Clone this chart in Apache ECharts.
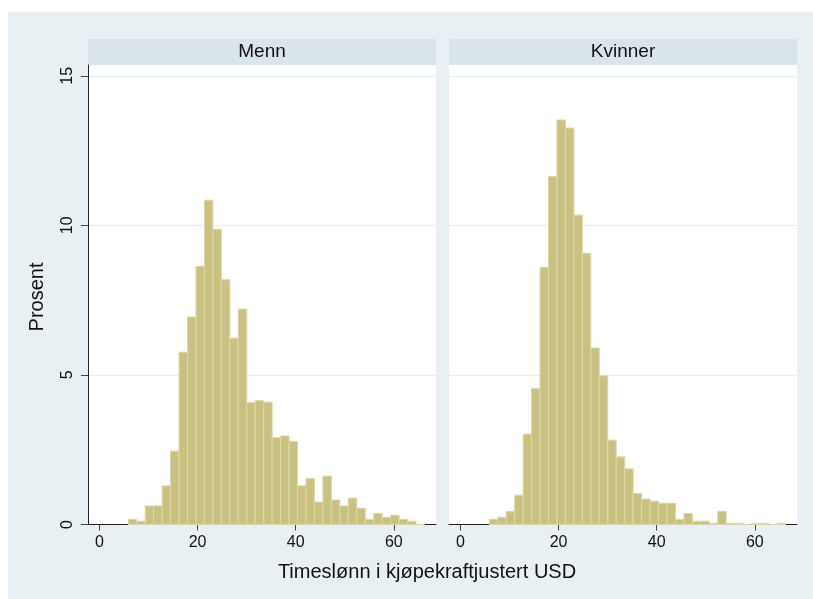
<!DOCTYPE html>
<html>
<head>
<meta charset="utf-8">
<title>Timeslønn i kjøpekraftjustert USD</title>
<script src="https://cdn.jsdelivr.net/npm/echarts@6/dist/echarts.min.js"></script>
<style>
  html, body { margin: 0; padding: 0; background: #fff; }
  #chart { width: 813px; height: 599px; }
</style>
</head>
<body>
<div id="chart"></div>
<script>
// histogram bins (USD), shared by both panels
var binEdges = [5.88, 7.6, 9.33, 11.05, 12.78, 14.5, 16.23, 17.95, 19.68, 21.4, 23.13, 24.85,
  26.58, 28.3, 30.03, 31.75, 33.48, 35.2, 36.93, 38.65, 40.38, 42.1, 43.83, 45.55, 47.28,
  49.0, 50.73, 52.45, 54.18, 55.9, 57.63, 59.35, 61.08, 62.8, 64.53, 66.25];

// prosent per bin
var menn = [0.17, 0.11, 0.62, 0.62, 1.29, 2.45, 5.76, 6.94, 8.63, 10.84, 9.87, 8.18, 6.23, 7.20,
  4.07, 4.14, 4.09, 2.90, 2.96, 2.78, 1.29, 1.54, 0.75, 1.62, 0.82, 0.62, 0.88, 0.54, 0.17,
  0.37, 0.24, 0.31, 0.17, 0.11, 0];
var kvinner = [0.17, 0.24, 0.43, 0.98, 3.02, 4.55, 8.60, 11.63, 13.52, 13.25, 10.34, 9.07, 5.90,
  4.97, 2.82, 2.26, 1.86, 1.04, 0.85, 0.78, 0.71, 0.71, 0.17, 0.37, 0.11, 0.11, 0.04, 0.44,
  0.04, 0.04, 0, 0.04, 0.04, 0, 0.04];

var panels = ['Menn', 'Kvinner'];
var xTicks = [0, 20, 40, 60];
var yTicks = [0, 5, 10, 15];

var font = "'Liberation Sans', Arial, Helvetica, sans-serif";
var barFill = '#c9c182';
var barEdge = '#dcd7a6';

function toBins(vals) {
  var out = [];
  for (var i = 0; i < vals.length; i++) {
    out.push([binEdges[i], binEdges[i + 1], vals[i]]);
  }
  return out;
}

function renderBin(params, api) {
  var top = api.coord([api.value(0), api.value(2)]);
  var base = api.coord([api.value(1), 0]);
  return {
    type: 'rect',
    shape: { x: top[0], y: top[1], width: base[0] - top[0], height: base[1] - top[1] },
    style: { fill: barFill, stroke: barEdge, lineWidth: 1 }
  };
}

function makeX(idx) {
  return {
    type: 'value', gridIndex: idx, min: -2.33, max: 68.6,
    axisLine: { show: true, onZero: false, lineStyle: { color: '#222', width: 1 } },
    axisTick: { show: true, length: 6, customValues: xTicks, lineStyle: { color: '#444' } },
    axisLabel: { customValues: xTicks, margin: 10, fontSize: 16, color: '#111', fontFamily: font },
    splitLine: { show: false }
  };
}

function makeY(idx, showAxis) {
  return {
    type: 'value', gridIndex: idx, min: 0, max: 15.36, interval: 5,
    axisLine: { show: showAxis, onZero: false, lineStyle: { color: '#222', width: 1 } },
    axisTick: { show: showAxis, length: 7, customValues: yTicks, lineStyle: { color: '#444' } },
    axisLabel: { show: showAxis, customValues: yTicks, rotate: 90, margin: 12, fontSize: 16, color: '#111', fontFamily: font },
    splitLine: { show: true, lineStyle: { color: '#e7eef1', width: 1 } }
  };
}

var chart = echarts.init(document.getElementById('chart'));

var option = {
  backgroundColor: '#fff',
  animation: false,
  grid: [
    { left: 88, top: 65, width: 348, height: 459.5, show: true, backgroundColor: '#fff', borderWidth: 0 },
    { left: 449, top: 65, width: 348, height: 459.5, show: true, backgroundColor: '#fff', borderWidth: 0 }
  ],
  xAxis: [makeX(0), makeX(1)],
  yAxis: [makeY(0, true), makeY(1, false)],
  graphic: [
    { type: 'rect', z: -10, shape: { x: 8, y: 12, width: 805, height: 587 }, style: { fill: '#e9f0f3' } },
    { type: 'rect', shape: { x: 88, y: 39, width: 348, height: 26 }, style: { fill: '#d9e5eb' } },
    { type: 'rect', shape: { x: 449, y: 39, width: 348, height: 26 }, style: { fill: '#d9e5eb' } },
    { type: 'text', x: 262, y: 52, style: { text: panels[0], align: 'center', verticalAlign: 'middle', fontSize: 19, fontFamily: font, fill: '#111' } },
    { type: 'text', x: 623, y: 52, style: { text: panels[1], align: 'center', verticalAlign: 'middle', fontSize: 19, fontFamily: font, fill: '#111' } },
    { type: 'text', x: 37, y: 297, rotation: Math.PI / 2, style: { text: 'Prosent', align: 'center', verticalAlign: 'middle', fontSize: 20, fontFamily: font, fill: '#111' } },
    { type: 'text', x: 427, y: 572, style: { text: 'Timeslønn i kjøpekraftjustert USD', align: 'center', verticalAlign: 'middle', fontSize: 20, fontFamily: font, fill: '#111' } }
  ],
  series: [
    { name: panels[0], type: 'custom', xAxisIndex: 0, yAxisIndex: 0, renderItem: renderBin, encode: { x: [0, 1], y: 2 }, data: toBins(menn) },
    { name: panels[1], type: 'custom', xAxisIndex: 1, yAxisIndex: 1, renderItem: renderBin, encode: { x: [0, 1], y: 2 }, data: toBins(kvinner) }
  ]
};

chart.setOption(option);
</script>
</body>
</html>
